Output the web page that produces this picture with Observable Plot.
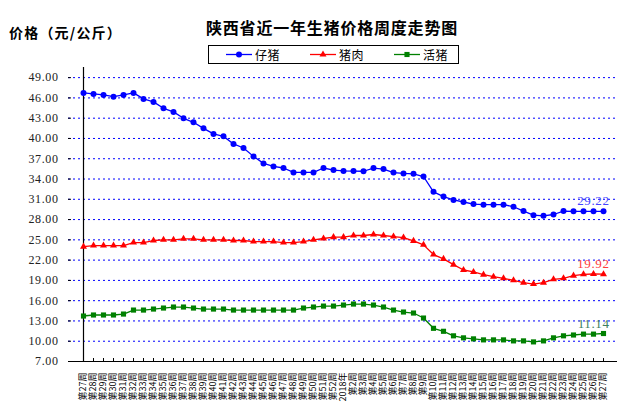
<!DOCTYPE html>
<html><head><meta charset="utf-8">
<script src="https://cdn.jsdelivr.net/npm/d3@7"></script>
<script src="https://cdn.jsdelivr.net/npm/@observablehq/plot@0.6"></script>
<style>
body{margin:0;background:#fff;overflow:hidden;}
#wrap{position:relative;width:632px;height:410px;font-family:"Noto Sans CJK SC",sans-serif;color:#000;}
#chart{position:absolute;left:0;top:0;}
#chart g[aria-label="y-axis tick label"] text{letter-spacing:0.6px;}
#chart g[aria-label="text"] text{letter-spacing:0.6px;}
#title{position:absolute;left:100px;width:464px;text-align:center;top:17px;font-size:16px;font-weight:bold;letter-spacing:0.8px;line-height:20px;white-space:nowrap;}
#ytitle{position:absolute;left:9px;top:23px;font-size:14px;font-weight:bold;line-height:18px;white-space:nowrap;letter-spacing:1.2px;}
#legend{position:absolute;left:208px;top:45px;width:249px;height:17px;border:1.3px solid #000;}
.item{position:absolute;top:0;height:17px;display:flex;align-items:center;font-size:12px;line-height:17px;white-space:nowrap;letter-spacing:0.5px;}
.item svg{margin-right:3px;}
</style>
</head><body>
<div id="wrap">
  <div id="chart"></div>
  <div id="title">陕西省近一年生猪价格周度走势图</div>
  <div id="ytitle">价格（元/公斤）</div>
  <div id="legend"></div>
</div>
<script>
// Week labels
const weeks = [
  "第27周","第28周","第29周","第30周","第31周","第32周","第33周","第34周","第35周","第36周",
  "第37周","第38周","第39周","第40周","第41周","第42周","第43周","第44周","第45周","第46周",
  "第47周","第48周","第49周","第50周","第51周","第52周","2018年",
  "第2周","第3周","第4周","第5周","第6周","第7周","第8周","第9周","第10周",
  "第11周","第12周","第13周","第14周","第15周","第16周","第17周","第18周","第19周","第20周",
  "第21周","第22周","第23周","第24周","第25周","第26周","第27周"
];
// 仔猪
const piglet = [
  46.74,46.59,46.44,46.19,46.44,46.74,45.85,45.41,44.46,43.93,
  42.98,42.39,41.50,40.67,40.31,39.19,38.59,37.35,36.31,35.87,
  35.63,34.98,34.98,34.98,35.63,35.33,35.20,35.18,35.15,35.62,
  35.47,34.96,34.82,34.77,34.37,32.10,31.40,30.90,30.60,30.30,
  30.20,30.20,30.20,29.90,29.25,28.65,28.55,28.75,29.25,29.22,
  29.22,29.22,29.22
];
// 猪肉
const pork = [
  24.00,24.15,24.15,24.15,24.15,24.60,24.60,24.90,25.00,25.00,
  25.15,25.15,25.00,25.00,25.00,24.90,24.90,24.75,24.75,24.75,
  24.60,24.60,24.75,25.00,25.20,25.40,25.40,25.64,25.64,25.79,
  25.64,25.49,25.34,24.85,24.26,22.82,22.18,21.33,20.54,20.25,
  19.85,19.55,19.31,19.01,18.66,18.46,18.66,19.16,19.31,19.70,
  19.90,19.95,19.92
];
// 活猪
const hog = [
  13.73,13.88,13.88,13.88,14.02,14.61,14.61,14.76,14.91,15.06,
  15.06,14.91,14.76,14.76,14.76,14.61,14.61,14.61,14.61,14.61,
  14.61,14.61,14.91,15.06,15.20,15.20,15.35,15.50,15.50,15.35,
  15.06,14.61,14.32,14.17,13.43,11.91,11.47,10.80,10.50,10.35,
  10.20,10.20,10.20,10.05,10.05,9.90,10.05,10.50,10.80,10.92,
  11.05,11.05,11.14
];
const yTicks = [7,10,13,16,19,22,25,28,31,34,37,40,43,46,49];
const seriesNames = ["仔猪","猪肉","活猪"];

const idx = d3.range(weeks.length);
const rows = idx.map(i => ({i, piglet: piglet[i], pork: pork[i], hog: hog[i]}));
const last = [rows[rows.length - 1]];

const series = [
  {key:"piglet", name:seriesNames[0], color:"#0000ff", symbol:"circle", r:3, label:"#4444ff"},
  {key:"pork", name:seriesNames[1], color:"#ff0000", symbol:"triangle", r:2.6, label:"#ff3b3b"},
  {key:"hog", name:seriesNames[2], color:"#008000", symbol:"square", r:2.9, label:"#3d7f5f"}
];

const serif = "'Liberation Serif', 'DejaVu Serif', serif";
const marks = [
  Plot.gridY(yTicks.filter(v => v > 7), {stroke:"#0000ff", strokeOpacity:1, strokeDasharray:"2,3"}),
  Plot.axisY(yTicks, {tickSize:-3, tickPadding:13, tickFormat:d => d.toFixed(2), fontSize:12, fontFamily:serif, fill:"#222", label:null}),
  Plot.axisX(idx, {tickSize:-3, tickPadding:14, tickRotate:-90, tickFormat:i => weeks[i], fontSize:9, label:null}),
  Plot.ruleX([0], {stroke:"#000", strokeWidth:1.2}),
  Plot.ruleY([7], {stroke:"#000", strokeWidth:1.2})
];
for (const s of series) {
  marks.push(Plot.line(rows, {x:"i", y:s.key, stroke:s.color, strokeWidth:1.3}));
  marks.push(Plot.dot(rows, {x:"i", y:s.key, fill:s.color, stroke:"none", r:s.r, symbol:s.symbol}));
  marks.push(Plot.text(last, {x:"i", y:s.key, text:d => d[s.key].toFixed(2), textAnchor:"end", lineAnchor:"bottom", dx:6, dy:-6, fill:s.label, fontSize:13, fontFamily:serif}));
}

const chart = Plot.plot({
  width:632, height:410,
  marginLeft:68, marginRight:15, marginTop:67, marginBottom:49,
  style:{fontFamily:"'Noto Sans CJK SC', sans-serif", background:"transparent", color:"#000", overflow:"visible"},
  x:{type:"point", domain:idx, padding:0},
  y:{domain:[7, 50.5]},
  marks
});
document.getElementById("chart").appendChild(chart);

// Legend
const legend = document.getElementById("legend");
const offsets = [17, 101, 185];
series.forEach((s, k) => {
  const div = document.createElement("div");
  div.className = "item";
  div.style.left = offsets[k] + "px";
  const sym = d3.symbol(s.symbol === "circle" ? d3.symbolCircle : s.symbol === "triangle" ? d3.symbolTriangle : d3.symbolSquare, Math.PI * s.r * s.r)();
  div.innerHTML = `<svg width="26" height="17"><line x1="0" x2="26" y1="8.5" y2="8.5" stroke="${s.color}" stroke-width="1.3"/><path d="${sym}" transform="translate(13,8.5)" fill="${s.color}"/></svg><span>${s.name}</span>`;
  legend.appendChild(div);
});
</script>
</body></html>
